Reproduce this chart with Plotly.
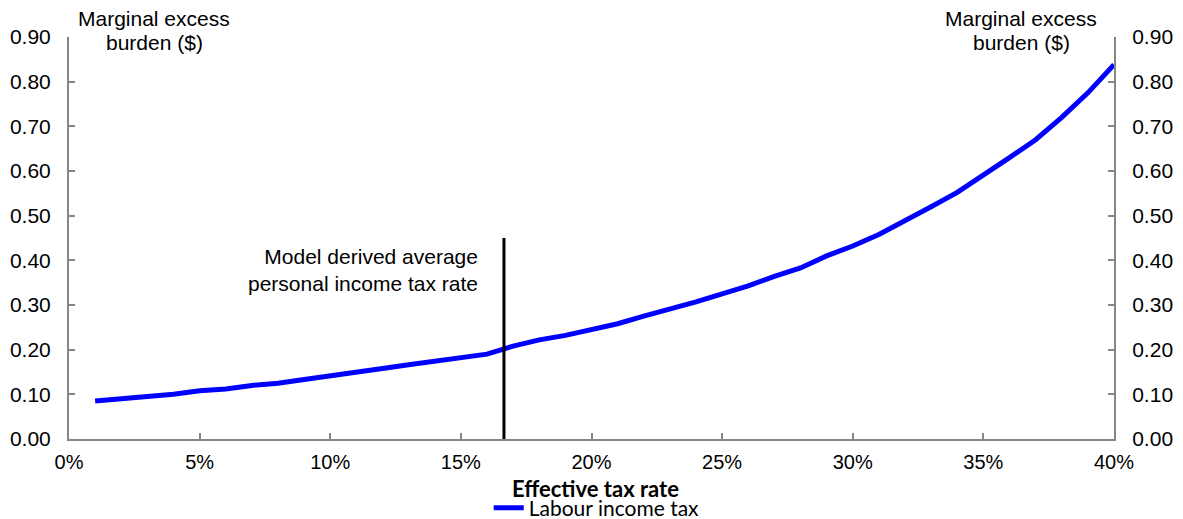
import plotly.graph_objects as go

tax_rate = list(range(1, 41))
meb = [0.085, 0.090, 0.095, 0.100, 0.108, 0.112, 0.120, 0.125, 0.133, 0.142,
       0.150, 0.158, 0.166, 0.174, 0.182, 0.190, 0.208, 0.222, 0.232, 0.245,
       0.258, 0.275, 0.290, 0.307, 0.325, 0.343, 0.364, 0.383, 0.410, 0.432,
       0.458, 0.488, 0.520, 0.552, 0.590, 0.630, 0.670, 0.720, 0.775, 0.838]
avg_rate = 16.65
avg_line_top = 0.45
x_ticks = [0, 5, 10, 15, 20, 25, 30, 35, 40]
y_ticks = [0.0, 0.1, 0.2, 0.3, 0.4, 0.5, 0.6, 0.7, 0.8, 0.9]

tick_font = dict(family="Liberation Sans, Arial", size=21, color="black")
xtick_font = dict(family="Liberation Sans, Arial", size=20, color="black")
title_font = dict(family="Liberation Sans, Arial", size=21, color="black")
axis_col = "#868686"

fig = go.Figure()
fig.add_trace(go.Scatter(x=tax_rate, y=meb, mode="lines", name="Labour income tax",
                         line=dict(color="#0000FF", width=5)))
fig.add_trace(go.Scatter(x=[avg_rate, avg_rate], y=[0, avg_line_top], mode="lines",
                         line=dict(color="black", width=3), showlegend=False,
                         hoverinfo="skip"))
fig.add_trace(go.Scatter(x=tax_rate, y=meb, mode="lines", yaxis="y2",
                         line=dict(color="rgba(0,0,0,0)", width=0), showlegend=False,
                         hoverinfo="skip"))

fig.update_layout(
    width=1175, height=511,
    margin=dict(l=61, r=69, t=29, b=80, autoexpand=False),
    plot_bgcolor="white", paper_bgcolor="white",
    xaxis=dict(range=[0, 40], tickvals=x_ticks, ticktext=[f"{v}%" for v in x_ticks],
               ticks="inside", ticklen=6, tickcolor=axis_col, tickwidth=2, showline=True,
               linecolor=axis_col, linewidth=2, showgrid=False, zeroline=False,
               tickfont=xtick_font, ticklabelstandoff=4),
    yaxis=dict(range=[0, 0.9], tickvals=y_ticks, tickformat=".2f", ticks="inside",
               ticklen=6, tickcolor=axis_col, tickwidth=2, showline=True, linecolor=axis_col,
               linewidth=2, showgrid=False, zeroline=False, tickfont=tick_font,
               ticklabelstandoff=12),
    yaxis2=dict(range=[0, 0.9], tickvals=y_ticks, tickformat=".2f", ticks="inside",
                ticklen=6, tickcolor=axis_col, tickwidth=2, showline=True, linecolor=axis_col,
                linewidth=2, showgrid=False, zeroline=False, tickfont=tick_font,
                ticklabelstandoff=12, overlaying="y", side="right"),
    legend=dict(orientation="h", x=0.505, xanchor="center", y=-0.1716, yanchor="middle",
                font=dict(family="Lato", size=21, color="black"),
                bgcolor="rgba(0,0,0,0)"),
    showlegend=True,
)

fig.add_annotation(xref="paper", yref="paper", x=0.5, y=0.0, xanchor="center",
                   yanchor="middle", yshift=-49, xshift=4, borderpad=0,
                   text="<b>Effective tax rate</b>", showarrow=False,
                   font=dict(family="Lato", size=22, color="black"))
for xp, xs in [(0.0, 85), (1.0, -93)]:
    fig.add_annotation(xref="paper", yref="paper", x=xp, y=1.0, xanchor="center",
                       yanchor="middle", yshift=19, xshift=xs,
                       text="Marginal excess", showarrow=False, font=title_font)
    fig.add_annotation(xref="paper", yref="paper", x=xp, y=1.0, xanchor="center",
                       yanchor="middle", yshift=-5, xshift=xs,
                       text="burden ($)", showarrow=False, font=title_font)
fig.add_annotation(xref="x", yref="y", x=avg_rate, y=avg_line_top, xanchor="right",
                   yanchor="top", xshift=-24, yshift=-5,
                   text="Model derived average<br>personal income tax rate",
                   showarrow=False, align="right",
                   font=dict(family="Liberation Sans, Arial", size=21, color="black"))

fig.write_html("out.html")
